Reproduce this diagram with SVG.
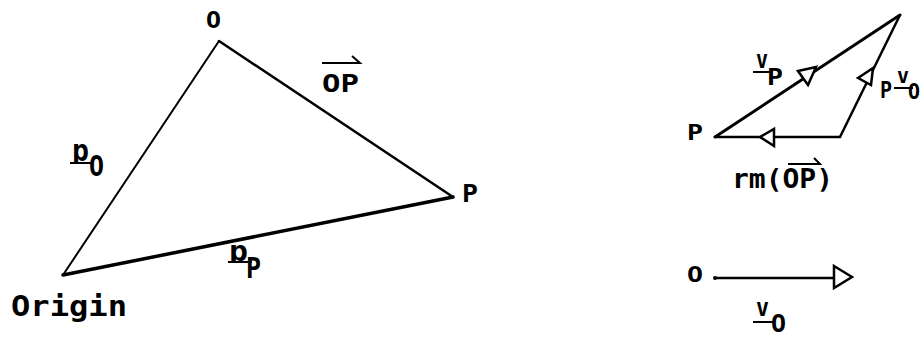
<svg xmlns="http://www.w3.org/2000/svg" width="921" height="338" viewBox="0 0 921 338">
<style>
text{font-family:"DejaVu Sans Mono","Liberation Mono",monospace;fill:#000;font-weight:bold}
.ln{stroke:#000;fill:none;stroke-linecap:round}
.ul{stroke:#000;stroke-width:2;fill:none}
.ah{stroke:#000;stroke-width:2.5;fill:#fff;stroke-linejoin:miter}
</style>
<defs>
<clipPath id="cpO"><rect x="60" y="130" width="40" height="32"/></clipPath>
<clipPath id="cpP"><rect x="220" y="235" width="40" height="26"/></clipPath>
</defs>
<rect width="921" height="338" fill="#fff"/>
<g id="connectors">
<line class="ln" x1="219" y1="41" x2="63" y2="275" stroke-width="2"/>
<line class="ln" x1="219" y1="41" x2="453" y2="197" stroke-width="2.5"/>
<line class="ln" x1="63" y1="275" x2="453" y2="197" stroke-width="3.5"/>
<line class="ln" x1="715" y1="137" x2="900" y2="15" stroke-width="3"/>
<line class="ln" x1="840" y1="137" x2="900" y2="15" stroke-width="2.5"/>
<line class="ln" x1="715" y1="137" x2="840" y2="137" stroke-width="2.5"/>
<polygon class="ah" points="798,71 816,67 808,85"/>
<polygon class="ah" points="858,78 873,68 871,85"/>
<polygon class="ah" points="760,137 774,129 774,146"/>
<line class="ln" x1="715" y1="278" x2="834" y2="278" stroke-width="2.5"/>
<polygon class="ah" points="834,266 852,277 834,288"/>
<circle cx="715" cy="278" r="2"/>
</g>
<g id="node-O"><text x="206" y="28" font-size="23" textLength="15" lengthAdjust="spacingAndGlyphs">O</text></g>
<g id="node-P"><text x="462" y="202" font-size="25" textLength="16" lengthAdjust="spacingAndGlyphs">P</text></g>
<g id="node-Origin"><text x="11" y="316" font-size="28" textLength="116" lengthAdjust="spacingAndGlyphs">Origin</text></g>
<g id="label-OP">
<text x="322" y="92" font-size="25" textLength="37" lengthAdjust="spacingAndGlyphs">OP</text>
<path class="ul" d="M322,63 H360 L352,56"/>
</g>
<g id="label-pO">
<text x="72" y="161" font-size="30" textLength="17" lengthAdjust="spacingAndGlyphs" clip-path="url(#cpO)">p</text>
<line class="ul" x1="70" y1="163" x2="92" y2="163"/>
<text x="89" y="176" font-size="28" textLength="15" lengthAdjust="spacingAndGlyphs">O</text>
</g>
<g id="label-pP">
<text x="229" y="261" font-size="28" textLength="19" lengthAdjust="spacingAndGlyphs" clip-path="url(#cpP)">p</text>
<line class="ul" x1="228" y1="262" x2="252" y2="262"/>
<text x="246" y="278" font-size="28" textLength="15" lengthAdjust="spacingAndGlyphs">P</text>
</g>
<g id="node-P2"><text x="687" y="140" font-size="21" textLength="16" lengthAdjust="spacingAndGlyphs">P</text></g>
<g id="label-vP">
<text x="756" y="68" font-size="24" textLength="12" lengthAdjust="spacingAndGlyphs">v</text>
<line class="ul" x1="753" y1="72" x2="772" y2="72"/>
<text x="767" y="85" font-size="23" textLength="16" lengthAdjust="spacingAndGlyphs">P</text>
</g>
<g id="label-PvO">
<text x="880" y="98" font-size="23" textLength="12" lengthAdjust="spacingAndGlyphs">P</text>
<text x="897" y="83" font-size="22" textLength="12" lengthAdjust="spacingAndGlyphs">v</text>
<line class="ul" x1="894" y1="88" x2="913" y2="88"/>
<text x="908" y="99" font-size="22" textLength="12" lengthAdjust="spacingAndGlyphs">O</text>
</g>
<g id="label-rmOP">
<text x="732" y="188" font-size="27" textLength="101" lengthAdjust="spacingAndGlyphs">rm(OP)</text>
<path class="ul" d="M788,164 H820 L814,158"/>
</g>
<g id="node-O2"><text x="687" y="282" font-size="21" textLength="16" lengthAdjust="spacingAndGlyphs">O</text></g>
<g id="label-vO">
<text x="756" y="316" font-size="24" textLength="13" lengthAdjust="spacingAndGlyphs">v</text>
<line class="ul" x1="753" y1="322" x2="773" y2="322"/>
<text x="771" y="332" font-size="24" textLength="15" lengthAdjust="spacingAndGlyphs">O</text>
</g>
</svg>
